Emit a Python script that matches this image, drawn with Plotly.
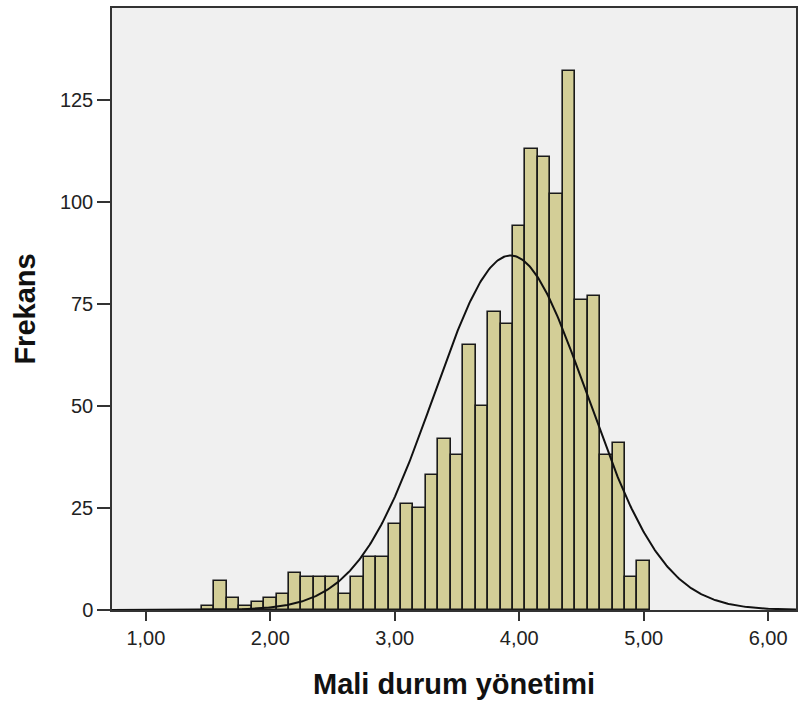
import numpy as np
import plotly.graph_objects as go

# bin centres (width 0.1) and frequencies
bin_centers = [1.5, 1.6, 1.7, 1.8, 1.9, 2.0, 2.1, 2.2, 2.3, 2.4, 2.5, 2.6, 2.7, 2.8, 2.9,
               3.0, 3.1, 3.2, 3.3, 3.4, 3.5, 3.6, 3.7, 3.8, 3.9, 4.0, 4.1, 4.2, 4.3, 4.4,
               4.5, 4.6, 4.7, 4.8, 4.9, 5.0]
frequencies = [1, 7, 3, 1, 2, 3, 4, 9, 8, 8, 8, 4, 8, 13, 13,
               21, 26, 25, 33, 42, 38, 65, 50, 73, 70, 94, 113, 111, 102, 132,
               76, 77, 38, 41, 8, 12]
bin_width = 0.1

# normal curve parameters
curve_mean = 3.93
curve_sd = 0.615

x_tick_vals = [1, 2, 3, 4, 5, 6]
x_tick_text = ["1,00", "2,00", "3,00", "4,00", "5,00", "6,00"]
y_tick_vals = [0, 25, 50, 75, 100, 125]

n_total = sum(frequencies)
xs = np.linspace(0.72, 6.3, 600)
ys = n_total * bin_width / (curve_sd * np.sqrt(2 * np.pi)) * np.exp(-0.5 * ((xs - curve_mean) / curve_sd) ** 2)

fig = go.Figure()
fig.add_trace(go.Bar(
    x=bin_centers, y=frequencies, width=bin_width,
    marker=dict(color="#D3CE97", line=dict(color="#1a1a1a", width=1.6)),
    hoverinfo="x+y", showlegend=False,
))
fig.add_trace(go.Scatter(
    x=xs, y=ys, mode="lines",
    line=dict(color="#111111", width=2), showlegend=False, hoverinfo="skip",
))

fig.update_layout(
    width=798, height=704,
    margin=dict(l=112, r=0, t=8, b=94),
    paper_bgcolor="white",
    plot_bgcolor="#F0F0F0",
    bargap=0,
    font=dict(family="Liberation Sans, Arial, sans-serif", color="#222222"),
    xaxis=dict(
        range=[0.7276, 6.224],
        tickvals=x_tick_vals, ticktext=x_tick_text,
        ticks="outside", ticklen=9, tickwidth=1.5, tickcolor="#333333",
        tickfont=dict(size=20, color="#222222"),
        showgrid=False, zeroline=False,
        showline=True, linecolor="#333333", linewidth=1.5, mirror=True,
        title=dict(text="<b>Mali durum yönetimi</b>", font=dict(size=29, color="#111111"), standoff=26),
    ),
    yaxis=dict(
        range=[0, 147.5],
        tickvals=y_tick_vals,
        ticks="outside", ticklen=13, tickwidth=1.5, tickcolor="#333333",
        tickfont=dict(size=20, color="#222222"),
        showgrid=False, zeroline=False,
        showline=True, linecolor="#333333", linewidth=1.5, mirror=True,
        title=dict(text="<b>Frekans</b>", font=dict(size=29, color="#111111"), standoff=16),
    ),
)

fig.write_html("out.html")
